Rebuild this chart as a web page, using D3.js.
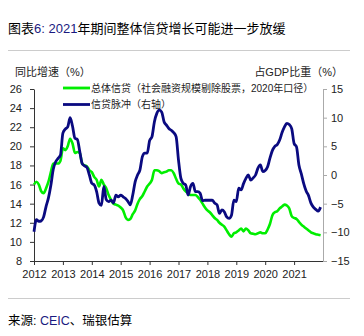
<!DOCTYPE html>
<html><head><meta charset="utf-8">
<script src="https://cdn.jsdelivr.net/npm/d3@7"></script>
<style>
body{margin:0;background:#fff;}
text{font-family:"Liberation Sans",Arial,"Noto Sans CJK SC",sans-serif;}
</style></head>
<body><svg id="c" width="364" height="336"></svg>
<script>
const startYear = 2012;
const yearTicks = [2012,2013,2014,2015,2016,2017,2018,2019,2020,2021];
const leftTicks = [8,10,12,14,16,18,20,22,24,26];
const rightTicks = [-15,-10,-5,0,5,10,15];
// 总体信贷 YoY % (monthly, 2012-01 .. 2021-12)
const totalCredit = [
16.0,16.3,16.0,15.3,15.1,15.6,16.3,17.3,18.2,18.2,18.2,18.5,
19.8,19.6,20.0,20.8,20.3,19.3,19.4,19.3,18.2,18.0,17.9,17.5,
17.3,16.8,16.5,15.8,16.5,16.0,15.6,14.9,14.4,14.0,13.9,13.8,
13.6,13.3,12.6,12.3,12.4,12.9,13.3,14.0,14.5,14.8,15.3,15.8,
16.1,16.5,17.5,17.5,17.4,17.2,17.3,17.35,17.5,17.5,17.2,16.6,
16.1,16.0,15.6,15.3,15.1,14.9,14.9,14.9,14.7,14.4,14.0,13.6,
13.3,13.1,12.8,12.5,12.3,12.0,11.8,11.6,11.2,10.8,10.55,10.9,
11.0,11.2,11.4,11.1,11.4,11.2,10.9,10.85,10.8,10.9,11.0,10.9,
10.9,11.3,11.9,12.8,13.1,13.2,13.5,13.7,13.9,13.8,13.5,12.7,
12.5,12.4,12.1,11.8,11.6,11.4,11.2,11.0,10.9,10.8,10.75,10.7
];
// 信贷脉冲 % of GDP (right axis)
const creditImpulse = [
-9.9,-7.8,-8.1,-8.0,-7.3,-5.5,-4.0,-1.8,1.0,2.3,2.9,3.5,
7.3,8.0,8.4,10.0,8.5,6.4,6.2,4.1,2.0,1.6,1.3,0.0,
-1.45,-1.75,-2.9,-4.9,-5.3,-2.0,-4.3,-4.65,-4.4,-4.9,-3.5,-3.8,
-3.5,-3.8,-4.1,-4.6,-5.2,-3.5,-1.2,0.0,0.9,3.2,3.8,3.8,
6.0,6.7,9.3,10.75,11.3,11.0,9.3,8.7,8.1,7.8,7.4,6.7,
2.6,-0.6,-1.45,-1.75,-3.5,-2.0,-1.45,-2.9,-2.9,-3.2,-4.5,-4.4,
-4.4,-4.4,-4.4,-4.9,-5.2,-6.7,-6.1,-6.4,-7.3,-7.55,-7.0,-4.4,
-4.65,-2.3,-2.6,-1.5,-0.6,0.0,-0.9,-0.5,0.0,1.2,1.75,0.6,
0.8,1.45,3.0,4.3,5.0,5.3,6.1,7.4,8.4,9.0,8.8,8.1,
5.5,4.9,1.75,0.2,-1.5,-2.8,-3.6,-4.9,-5.6,-6.0,-6.3,-5.6
];

const svg = d3.select("#c");
const x = d3.scaleLinear().domain([2012, 2022]).range([34, 323]);
const yL = d3.scaleLinear().domain([8, 26]).range([261, 89]);
const yR = d3.scaleLinear().domain([-15, 15]).range([261, 89]);
const tOf = i => startYear + i/12;

// title
const title = svg.append("text").attr("x", 8).attr("y", 33).attr("font-size", 13).attr("fill", "#000");
title.append("tspan").text("图表");
title.append("tspan").attr("fill", "#1a1a80").text("6: 2021");
title.append("tspan").text("年期间整体信贷增长可能进一步放缓");

svg.append("line").attr("x1", 8).attr("x2", 350).attr("y1", 50.5).attr("y2", 50.5).attr("stroke", "#ccc");
svg.append("line").attr("x1", 8).attr("x2", 350).attr("y1", 298.5).attr("y2", 298.5).attr("stroke", "#ccc");

const foot = svg.append("text").attr("x", 8).attr("y", 325).attr("font-size", 12.5).attr("fill", "#000");
foot.append("tspan").text("来源: ");
foot.append("tspan").attr("fill", "#1a1a80").text("CEIC");
foot.append("tspan").text("、瑞银估算");

svg.append("text").attr("x", 15).attr("y", 76).attr("font-size", 11).attr("fill", "#222").text("同比增速（%）");
svg.append("text").attr("x", 343).attr("y", 76).attr("text-anchor", "end").attr("font-size", 11).attr("fill", "#222").text("占GDP比重（%）");

// axes
const ax = svg.append("g").attr("transform", "translate(0,261)")
  .call(d3.axisBottom(x).tickValues(yearTicks).tickFormat(d3.format("d")).tickSize(4).tickSizeOuter(0));
ax.selectAll("text").attr("font-size", 11).attr("fill", "#222").attr("dy", "0.9em");
ax.selectAll("line,path").attr("stroke", "#333");

const al = svg.append("g").attr("transform", "translate(34,0)")
  .call(d3.axisLeft(yL).tickValues(leftTicks).tickSize(4).tickSizeOuter(0).tickPadding(8));
al.selectAll("text").attr("font-size", 11).attr("fill", "#222");
al.selectAll("line,path").attr("stroke", "#333");

const ar = svg.append("g").attr("transform", "translate(323,0)")
  .call(d3.axisRight(yR).tickValues(rightTicks).tickSize(4).tickSizeOuter(0).tickPadding(4));
ar.selectAll("text").attr("font-size", 11).attr("fill", "#222");
ar.selectAll("line,path").attr("stroke", "#aaa");

// lines
const lineL = d3.line().x((d,i) => x(tOf(i))).y(d => yL(d)).curve(d3.curveMonotoneX);
const lineR = d3.line().x((d,i) => x(tOf(i))).y(d => yR(d)).curve(d3.curveMonotoneX);
svg.append("path").datum(totalCredit).attr("d", lineL).attr("fill", "none")
  .attr("stroke", "#00ee00").attr("stroke-width", 2.6).attr("stroke-linejoin", "round");
svg.append("path").datum(creditImpulse).attr("d", lineR).attr("fill", "none")
  .attr("stroke", "#0a0a80").attr("stroke-width", 2.8).attr("stroke-linejoin", "round");

// legend
const leg = [
  {name: "总体信贷（社会融资规模剔除股票，2020年口径）", color: "#00ee00", y: 88},
  {name: "信贷脉冲（右轴）", color: "#0a0a80", y: 104.5}
];
leg.forEach(l => {
  svg.append("line").attr("x1", 63).attr("x2", 90).attr("y1", l.y).attr("y2", l.y)
    .attr("stroke", l.color).attr("stroke-width", 2.8);
  svg.append("text").attr("x", 91).attr("y", l.y + 3.5).attr("font-size", 10).attr("fill", "#222").text(l.name);
});
</script></body></html>
